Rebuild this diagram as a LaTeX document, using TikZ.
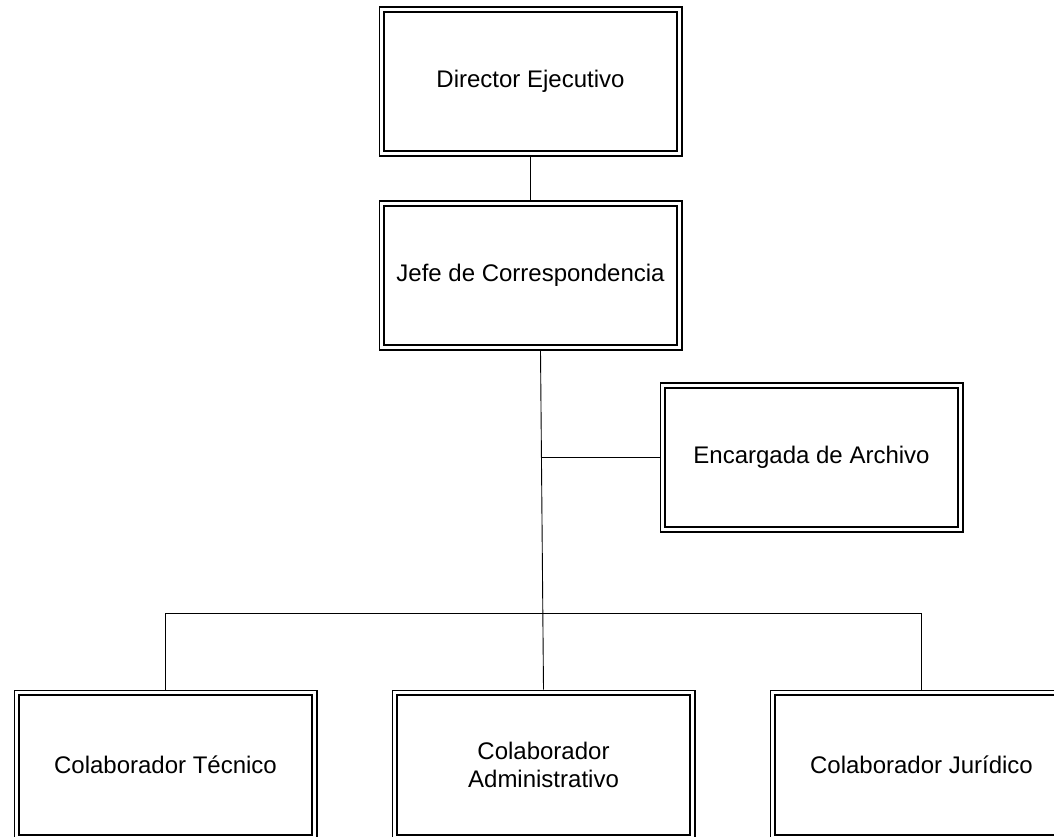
\documentclass[tikz,border=0pt]{standalone}
\usepackage{fontspec}
\setmainfont{Liberation Sans}
\begin{document}
\begin{tikzpicture}[x=1pt,y=-1pt,
  unit/.style={draw=black, double=white, double distance=3.2pt, line width=1.7pt,
    fill=white, rectangle, inner sep=0pt, outer sep=3.3pt,
    minimum width=297.4pt, minimum height=144.4pt, align=center,
    font=\fontsize{24}{28}\selectfont},
  link/.style={draw=black, line width=0.9pt}]
\useasboundingbox (0,0) rectangle (1054,837);
\fill[white] (0,0) rectangle (1054,837);

% boxes of the chart
\node[unit] (dir) at (530.5,81.5) {Director Ejecutivo};
\node[unit] (jefe) at (530.5,275.5) {Jefe de Correspondencia};
\node[unit] (enc) at (811.5,457.5) {Encargada de Archivo};
\node[unit] (tec) at (165.5,765) {Colaborador Técnico};
\node[unit] (adm) at (543.5,765) {Colaborador\\Administrativo};
\node[unit] (jur) at (921.5,765) {Colaborador Jurídico};

% connectors, ending on the outer edge of each box
\coordinate (trunk) at ([xshift=10pt]jefe.south);
\draw[link] (dir.south) -- (jefe.north);
\draw[link] (trunk) -- (adm.north);
\draw[link] (trunk |- enc.west) -- (enc.west);
\draw[link] (tec.north) -- ++(0,-76) -| (jur.north);
\end{tikzpicture}
\end{document}
